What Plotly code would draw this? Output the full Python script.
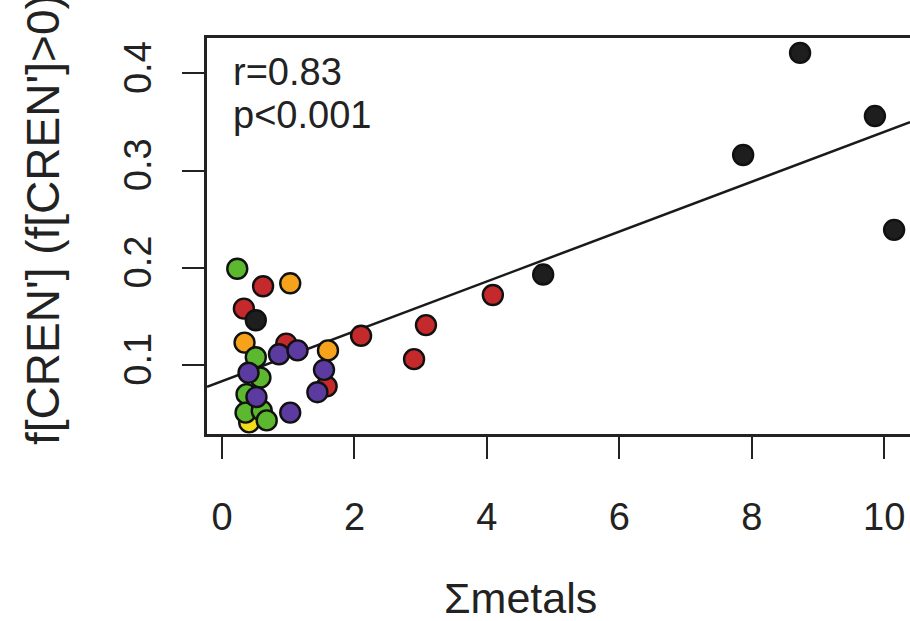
import plotly.graph_objects as go

# ---- data ----
red_x = [0.62, 0.33, 0.97, 1.58, 2.10, 3.08, 2.90, 4.09]
red_y = [0.181, 0.158, 0.122, 0.078, 0.130, 0.141, 0.106, 0.172]

orange_x = [1.03, 0.34, 1.60]
orange_y = [0.184, 0.123, 0.115]

green_x = [0.23, 0.51, 0.58, 0.37, 0.355, 0.60, 0.675]
green_y = [0.199, 0.108, 0.087, 0.070, 0.051, 0.053, 0.043]

purple_x = [0.86, 1.14, 1.54, 0.40, 1.44, 0.52, 1.03]
purple_y = [0.111, 0.115, 0.095, 0.092, 0.072, 0.067, 0.051]

yellow_x = [0.41]
yellow_y = [0.041]

black_x = [0.51, 4.85, 7.87, 8.73, 9.86, 10.15]
black_y = [0.146, 0.193, 0.316, 0.421, 0.356, 0.239]

fit_intercept = 0.0833
fit_slope = 0.02565

x_ticks = [0, 2, 4, 6, 8, 10]
y_ticks = [0.1, 0.2, 0.3, 0.4]

x_range = [-0.227, 10.39]
y_range = [0.029, 0.4363]

r_text = "r=0.83"
p_text = "p<0.001"
x_title = "Σmetals"
y_title = "f[CREN'] (f[CREN']>0)"

FONT = "Liberation Sans, Arial, sans-serif"

fig = go.Figure()

fit_x = [x_range[0], x_range[1]]
fit_y = [fit_intercept + fit_slope * v for v in fit_x]
fig.add_trace(go.Scatter(x=fit_x, y=fit_y, mode="lines",
                         line=dict(color="#1a1a1a", width=2.5),
                         showlegend=False, hoverinfo="skip"))

groups = [
    (yellow_x, yellow_y, "#f2dc1c"),
    (red_x, red_y, "#c4292b"),
    (orange_x, orange_y, "#f6a31b"),
    (green_x, green_y, "#5cb82f"),
    (purple_x, purple_y, "#5b3b9f"),
    (black_x, black_y, "#1e1e1e"),
]
for gx, gy, col in groups:
    fig.add_trace(go.Scatter(x=gx, y=gy, mode="markers",
                             marker=dict(size=20, color=col,
                                         line=dict(color="#111111", width=2.4)),
                             showlegend=False))

fig.update_xaxes(range=x_range, tickvals=x_ticks, ticks="outside", ticklen=22,
                 tickwidth=2, tickcolor="#222", showline=True, linewidth=2.5,
                 linecolor="#222", mirror=True, showgrid=False, zeroline=False,
                 ticklabelstandoff=26,
                 tickfont=dict(size=38, color="#222", family=FONT))
fig.update_yaxes(range=y_range, tickvals=y_ticks, ticks="outside", ticklen=22,
                 tickwidth=2, tickcolor="#222", showline=True, linewidth=2.5,
                 linecolor="#222", mirror=False, showgrid=False, zeroline=False,
                 tickangle=-90, ticklabelstandoff=16,
                 tickfont=dict(size=38, color="#222", family=FONT))

fig.add_annotation(x=(231 - 207) / 703, y=(434 - 72) / 396, xref="paper", yref="paper",
                   text=r_text, showarrow=False, xanchor="left", yanchor="middle",
                   font=dict(size=38, color="#222", family=FONT))
fig.add_annotation(x=(231 - 207) / 703, y=(434 - 115) / 396, xref="paper", yref="paper",
                   text=p_text, showarrow=False, xanchor="left", yanchor="middle",
                   font=dict(size=38, color="#222", family=FONT))
fig.add_annotation(x=(520 - 207) / 703, y=(434 - 598) / 396, xref="paper", yref="paper",
                   text=x_title, showarrow=False, xanchor="center", yanchor="middle",
                   font=dict(size=43, color="#222", family=FONT))
fig.add_annotation(x=(43 - 207) / 703, y=(434 - 220) / 396, xref="paper", yref="paper",
                   text=y_title, showarrow=False, xanchor="center", yanchor="middle",
                   textangle=-90,
                   font=dict(size=46, color="#222", family=FONT))

fig.update_layout(width=910, height=621, margin=dict(l=207, r=0, t=38, b=187),
                  paper_bgcolor="white", plot_bgcolor="white")

fig.write_html("out.html", config={"displayModeBar": False},
               post_script="document.body.style.margin='0';"
                           "document.body.style.overflow='hidden';")
